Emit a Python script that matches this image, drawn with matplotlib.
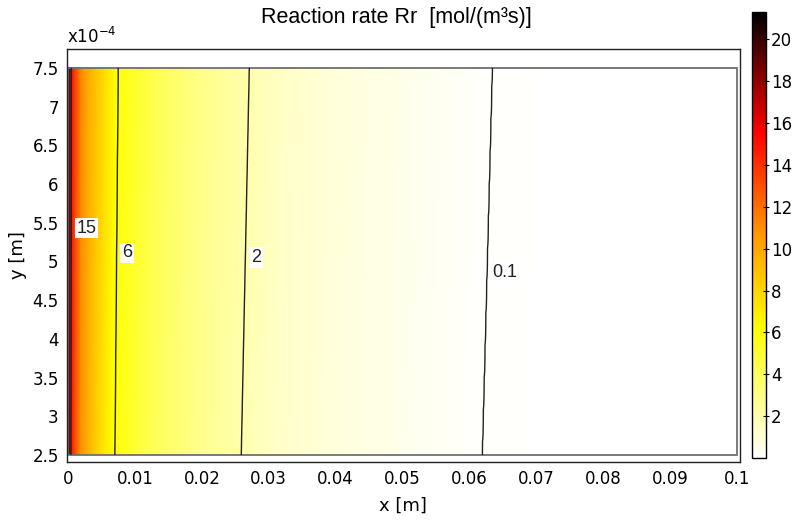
import numpy as np
import matplotlib
matplotlib.use('Agg')
import matplotlib.pyplot as plt
from matplotlib.colors import LinearSegmentedColormap
from matplotlib.patches import Rectangle

# Rate profile across the channel: value and its x position on the
# bottom (y = 2.5e-4) and top (y = 7.5e-4) walls
rate_levels = [21.0, 15.0, 11.0, 8.0, 6.0, 4.0, 2.0, 1.3, 1.0, 0.6, 0.3, 0.1, 0.06, 0.04]
x_bottom = [0.0, 0.0004, 0.0018, 0.0045, 0.0070, 0.0135, 0.0259, 0.0320, 0.0375, 0.0475, 0.0555, 0.0619, 0.0800, 0.1]
x_top = [0.0, 0.0005, 0.0020, 0.0050, 0.0075, 0.0142, 0.0271, 0.0333, 0.0388, 0.0490, 0.0570, 0.0634, 0.0820, 0.1]

contour_levels = [0.1, 2, 6, 15]
contour_labels = ['0.1', '2', '6', '15']
label_y = [4.86e-4, 5.05e-4, 5.11e-4, 5.43e-4]

x_range = (0.0, 0.1)
y_range = (2.5e-4, 7.5e-4)
y_ticks = [2.5e-4, 3e-4, 3.5e-4, 4e-4, 4.5e-4, 5e-4, 5.5e-4, 6e-4, 6.5e-4, 7e-4, 7.5e-4]
x_ticks = [0, 0.01, 0.02, 0.03, 0.04, 0.05, 0.06, 0.07, 0.08, 0.09, 0.1]
cbar_ticks = [2, 4, 6, 8, 10, 12, 14, 16, 18, 20]
vmin, vmax = 0.0, 21.3

# build the surface row by row from the wall profiles
nx, ny = 800, 200
xg = np.linspace(*x_range, nx)
yg = np.linspace(*y_range, ny)
log_vals = np.log(rate_levels)
xb = np.array(x_bottom)
xt = np.array(x_top)
field = np.empty((ny, nx))
for j, yy in enumerate(yg):
    t = (yy - y_range[0]) / (y_range[1] - y_range[0])
    xs = xb + (xt - xb) * t
    field[j] = np.exp(np.interp(xg, xs, log_vals))

hot = LinearSegmentedColormap.from_list(
    'comsol_hot',
    [(0.0, '#ffffff'), (0.29, '#ffff00'), (0.5, '#ff9900'),
     (0.73, '#ff0000'), (1.0, '#000000')])

fig = plt.figure(figsize=(7.92, 5.26), dpi=100)
ax = fig.add_axes([0.0846, 0.1217, 0.8494, 0.7853])
cax = fig.add_axes([0.9495, 0.129, 0.0177, 0.848])

im = ax.imshow(field, extent=[*x_range, *y_range], origin='lower',
               aspect='auto', cmap=hot, vmin=vmin, vmax=vmax,
               interpolation='bilinear')
ax.contour(xg, yg, field, levels=contour_levels, colors='#222222',
           linewidths=1.0)

# label each contour just to the right of the line
for lvl, txt, ly in zip(contour_levels, contour_labels, label_y):
    t = (ly - y_range[0]) / (y_range[1] - y_range[0])
    xs = xb + (xt - xb) * t
    lx = np.interp(np.log(lvl), log_vals[::-1], xs[::-1])
    ax.annotate(txt, (lx, ly), xytext=(4, 0), textcoords='offset points',
                ha='left', va='center', fontsize=13, family='Liberation Sans',
                color='#222222',
                bbox=dict(boxstyle='square,pad=0.1', fc='white', ec='none'))

ax.add_patch(Rectangle((x_range[0], y_range[0]), x_range[1] - x_range[0],
                       y_range[1] - y_range[0], fill=False, ec='#707070', lw=1.3))

ax.set_xlim(-0.00015, 0.1004)
ax.set_ylim(2.41e-4, 7.745e-4)
ax.set_xticks(x_ticks)
ax.set_xticklabels(['%g' % v for v in x_ticks])
ax.set_yticks(y_ticks)
ax.set_yticklabels(['%g' % round(v * 1e4, 2) for v in y_ticks])
ax.tick_params(length=0, labelsize=12, pad=6)
for s in ax.spines.values():
    s.set_color('#222222')
    s.set_linewidth(1.0)

ax.text(0.0, 1.005, r'x10$^{-4}$', transform=ax.transAxes, fontsize=12,
        ha='left', va='bottom')
ax.set_xlabel('x [m]', fontsize=13, labelpad=6)
ax.set_ylabel('y [m]', fontsize=13, labelpad=4)
fig.text(0.5, 0.967, 'Reaction rate Rr  [mol/(m³s)]', ha='center', va='center',
         fontsize=15.5, family='Liberation Sans')

cb = fig.colorbar(im, cax=cax, ticks=cbar_ticks)
cb.outline.set_linewidth(1.0)
cax.tick_params(direction='inout', length=5, width=0.8, labelsize=12, pad=1)

fig.savefig('out.png', dpi=100)
plt.close(fig)
